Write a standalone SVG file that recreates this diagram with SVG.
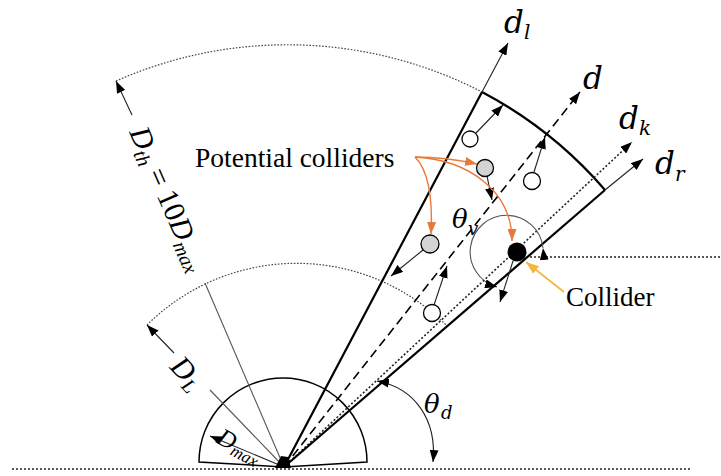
<svg xmlns="http://www.w3.org/2000/svg" width="721" height="476" viewBox="0 0 721 476">
<defs>
<style>
.serif{font-family:"Liberation Serif","Times New Roman",serif;fill:#000}
.math{font-family:"DejaVu Serif","Liberation Serif",serif;font-style:italic;fill:#000}
.it{font-style:italic}
.thin{stroke:#222;stroke-width:1.1;fill:none}
.thick{stroke:#000;stroke-width:2.2;fill:none}
.dot{stroke:#444;stroke-width:1.2;stroke-dasharray:1.6 1.6;fill:none}
.dotk{stroke:#222;stroke-width:1.6;stroke-dasharray:2 2;fill:none}
.dash{stroke:#000;stroke-width:1.6;stroke-dasharray:9 5;fill:none}
.orange{stroke:#e8793a;stroke-width:1.4;fill:none}
.yellow{stroke:#f5b53f;stroke-width:1.6;fill:none}
.pw{fill:#fff;stroke:#000;stroke-width:1.3}
.pg{fill:#d4d4d4;stroke:#000;stroke-width:1.3}
</style>
<marker id="ah" viewBox="0 0 12 9" refX="12" refY="4.5" markerWidth="12" markerHeight="9" markerUnits="userSpaceOnUse" orient="auto"><path d="M0,0 L12,4.5 L0,9 z" fill="#000"/></marker>
<marker id="ah2" viewBox="0 0 12 9" refX="12" refY="4.5" markerWidth="12" markerHeight="9" markerUnits="userSpaceOnUse" orient="auto-start-reverse"><path d="M0,0 L12,4.5 L0,9 z" fill="#000"/></marker>
<marker id="ao" viewBox="0 0 12 9" refX="12" refY="4.5" markerWidth="12" markerHeight="9" markerUnits="userSpaceOnUse" orient="auto"><path d="M0,0 L12,4.5 L0,9 z" fill="#e8793a"/></marker>
<marker id="ay" viewBox="0 0 12 9" refX="12" refY="4.5" markerWidth="13" markerHeight="10" markerUnits="userSpaceOnUse" orient="auto"><path d="M0,0 L12,4.5 L0,9 z" fill="#f5b53f"/></marker>
</defs>
<rect width="721" height="476" fill="#fff"/>

<g id="connectors">
  <line class="dotk" x1="12" y1="469" x2="690" y2="469"/>
  <line class="dotk" x1="530" y1="257" x2="721" y2="257"/>
  <path class="thin" style="stroke:#000;stroke-width:1.5" d="M284,467 L199,462 A84,84 0 0 1 367,462 Z"/>
  <path class="dot" d="M147,325 A212,212 0 0 1 447,326"/>
  <path class="dot" d="M116,81 A424,424 0 0 1 482,92"/>
  <path class="thick" d="M482,92 A424,424 0 0 1 605,190"/>
  <line class="thick" x1="284" y1="467" x2="482" y2="92"/>
  <line class="thin" x1="482" y1="92" x2="508" y2="43" marker-end="url(#ah)"/>
  <line class="dash" x1="284" y1="467" x2="580" y2="92" marker-end="url(#ah)"/>
  <line class="dotk" x1="284" y1="467" x2="632" y2="142" marker-end="url(#ah)"/>
  <line class="thick" x1="284" y1="467" x2="605" y2="190"/>
  <line class="thin" x1="605" y1="190" x2="643" y2="159" marker-end="url(#ah)"/>
  <line class="thin" x1="132" y1="115" x2="116" y2="81" marker-end="url(#ah)"/>
  <line class="thin" style="stroke:#555" x1="284" y1="467" x2="205" y2="283"/>
  <line class="thin" x1="174" y1="353" x2="147" y2="325" marker-end="url(#ah)"/>
  <line class="thin" style="stroke:#555" x1="284" y1="467" x2="210" y2="390"/>
  <line class="thin" x1="284" y1="467" x2="210" y2="436" marker-end="url(#ah)"/>
  <polygon points="275,468 291,468 288,457 281,456" fill="#000"/>
  <path class="thin" d="M377,381 C415,388 437,420 433,462" marker-start="url(#ah2)" marker-end="url(#ah2)"/>
  <path class="thin" style="stroke:#555" d="M543,248 A36.5,36.5 0 1 0 497,287" marker-start="url(#ah)" marker-end="url(#ah)"/>
  <line class="thin" x1="476" y1="133" x2="503" y2="105" marker-end="url(#ah)"/>
  <line class="thin" x1="487" y1="176" x2="492" y2="200" marker-end="url(#ah)"/>
  <line class="thin" x1="534" y1="172" x2="545" y2="137" marker-end="url(#ah)"/>
  <line class="thin" x1="423" y1="250" x2="391" y2="276" marker-end="url(#ah)"/>
  <line class="thin" x1="434" y1="305" x2="447" y2="266" marker-end="url(#ah)"/>
  <line class="thin" x1="513" y1="261" x2="500" y2="302" marker-end="url(#ah)"/>
  <path class="orange" d="M415,157 Q446,157 477,164" marker-end="url(#ao)"/>
  <path class="orange" d="M415,157 Q434,176 431,234" marker-end="url(#ao)"/>
  <path class="orange" d="M415,157 C470,160 512,192 512,241" marker-end="url(#ao)"/>
  <path class="yellow" d="M564,292 L526,262" marker-end="url(#ay)"/>
</g>

<g id="p1"><circle class="pw" cx="470" cy="139" r="8"/></g>
<g id="p2"><circle class="pg" cx="485" cy="168" r="8.5"/></g>
<g id="p3"><circle class="pw" cx="532" cy="181" r="8.5"/></g>
<g id="p4"><circle class="pg" cx="430" cy="244" r="9"/></g>
<g id="p5"><circle class="pw" cx="432" cy="313" r="8.5"/></g>
<g id="collider"><circle cx="517" cy="252" r="9.5" fill="#000"/></g>

<g id="label-dl" class="math"><text x="504" y="33" font-size="31">d</text><text x="524" y="39" font-size="20">l</text></g>
<g id="label-d" class="math"><text x="583" y="89" font-size="31">d</text></g>
<g id="label-dk" class="math"><text x="619" y="129" font-size="31">d</text><text x="639" y="135" font-size="20">k</text></g>
<g id="label-dr" class="math"><text x="655" y="174" font-size="31">d</text><text x="675" y="181" font-size="20">r</text></g>
<g id="label-thv" class="math"><text x="452" y="228" font-size="26">θ</text><text x="468" y="235" font-size="18">v</text></g>
<g id="label-thd" class="math"><text x="424" y="413" font-size="26">θ</text><text x="441" y="419" font-size="18">d</text></g>
<g id="label-potential"><text class="serif" x="195" y="167" font-size="27.5">Potential colliders</text></g>
<g id="label-collider"><text class="serif" x="566" y="306" font-size="27">Collider</text></g>
<g id="label-dth" transform="translate(168,199) rotate(66.5)"><text class="serif" text-anchor="middle" y="9" font-size="30"><tspan class="it">D</tspan><tspan class="it" font-size="20" dy="5">th</tspan><tspan dy="-5"> = 10</tspan><tspan class="it">D</tspan><tspan class="it" font-size="20" dy="5">max</tspan></text></g>
<g id="label-dL" transform="translate(186,374) rotate(46)"><text class="serif" text-anchor="middle" y="8" font-size="30"><tspan class="it">D</tspan><tspan class="it" font-size="20" dy="5">L</tspan></text></g>
<g id="label-dmax" transform="translate(239,447) rotate(28)"><text class="serif" text-anchor="middle" y="7" font-size="25"><tspan class="it">D</tspan><tspan class="it" font-size="17" dy="4">max</tspan></text></g>
</svg>
